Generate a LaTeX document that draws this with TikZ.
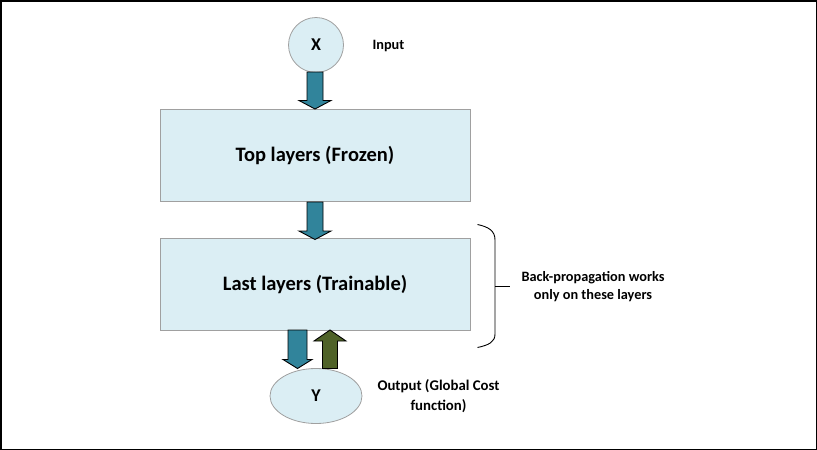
\documentclass[tikz,border=0pt]{standalone}
\usepackage{fontspec}
\setmainfont{Carlito}
\usetikzlibrary{calc,shapes.geometric}
\definecolor{boxfill}{HTML}{DBEEF4}
\definecolor{boxline}{HTML}{A0A0A0}
\definecolor{arrblue}{HTML}{31849B}
\definecolor{arrgreen}{HTML}{4F6228}
\tikzset{
  layerbox/.style={draw=boxline, line width=1pt, fill=boxfill, minimum width=310pt, minimum height=92pt, inner sep=0pt, font=\fontsize{20.5}{22}\selectfont\bfseries},
  iobubble/.style={draw=boxline, line width=0.8pt, fill=boxfill, inner sep=0pt, font=\fontsize{18}{20}\selectfont\bfseries},
  note/.style={align=center, font=\fontsize{14.3}{18}\selectfont\bfseries},
  fatarrow/.style={draw=black, line width=0.9pt, line join=miter},
}
% down arrow: #1 start coordinate (top centre), #2 tip, #3 shaft half width, #4 head half width, #5 head length, #6 colour
\newcommand\fatdown[6]{%
  \draw[fatarrow, fill=#6] let \p1=(#1), \p2=(#2) in
    (\x2-#3,\y1) -- (\x2+#3,\y1) -- (\x2+#3,\y2+#5) -- (\x2+#4,\y2+#5) -- (\x2,\y2)
    -- (\x2-#4,\y2+#5) -- (\x2-#3,\y2+#5) -- cycle;}
\newcommand\fatup[6]{%
  \draw[fatarrow, fill=#6] let \p1=(#1), \p2=(#2) in
    (\x2-#3,\y1) -- (\x2+#3,\y1) -- (\x2+#3,\y2-#5) -- (\x2+#4,\y2-#5) -- (\x2,\y2)
    -- (\x2-#4,\y2-#5) -- (\x2-#3,\y2-#5) -- cycle;}
\begin{document}
\begin{tikzpicture}[x=1pt,y=-1pt]
\useasboundingbox (0,0) rectangle (817,450);
\draw[line width=1.5pt] (0.75,0.75) rectangle (816.25,449.25);

\node[iobubble, circle, minimum size=55pt] (X) at (316,45) {X};
\node[note, anchor=west] (inp) at (369,46) {Input};

\node[layerbox] (top) at (315,155.5) {Top layers (Frozen)};
\node[layerbox] (last) at (315,284.5) {Last layers (Trainable)};

\node[iobubble, ellipse, minimum width=92pt, minimum height=55pt] (Y) at (316,396) {Y};
\node[note, font=\fontsize{14.8}{19.5}\selectfont\bfseries] (out) at (438.5,396) {Output (Global Cost\\function)};

\coordinate (a1s) at (315,72);
\coordinate (a1t) at (315,109);
\coordinate (a2s) at (315,202);
\coordinate (a2t) at (315,239.5);
\coordinate (a3s) at (297.5,330);
\coordinate (a3t) at (297.5,368.5);
\coordinate (a4s) at (330,368.5);
\coordinate (a4t) at (330,330);

\fatdown{a1s}{a1t}{8pt}{16pt}{8.5pt}{arrblue}
\fatdown{a2s}{a2t}{8pt}{16pt}{8.5pt}{arrblue}
\fatdown{a3s}{a3t}{9.5pt}{14.5pt}{9pt}{arrblue}
\fatup{a4s}{a4t}{7.5pt}{16pt}{11pt}{arrgreen}

% brace
\coordinate (bt) at (477.5,224.5);
\coordinate (bb) at (477.5,347.5);
\coordinate (bm) at (495,286);
\coordinate (bx) at (510,286);
\draw[line width=0.9pt] (bt) .. controls (489,227) and (495,231) .. (495,240)
  -- (495,334) .. controls (495,342) and (489,345) .. (bb);
\draw[line width=0.9pt] (bm) -- (bx);
\node[note] (bp) at (593,286.5) {Back-propagation works\\only on these layers};
\end{tikzpicture}
\end{document}
